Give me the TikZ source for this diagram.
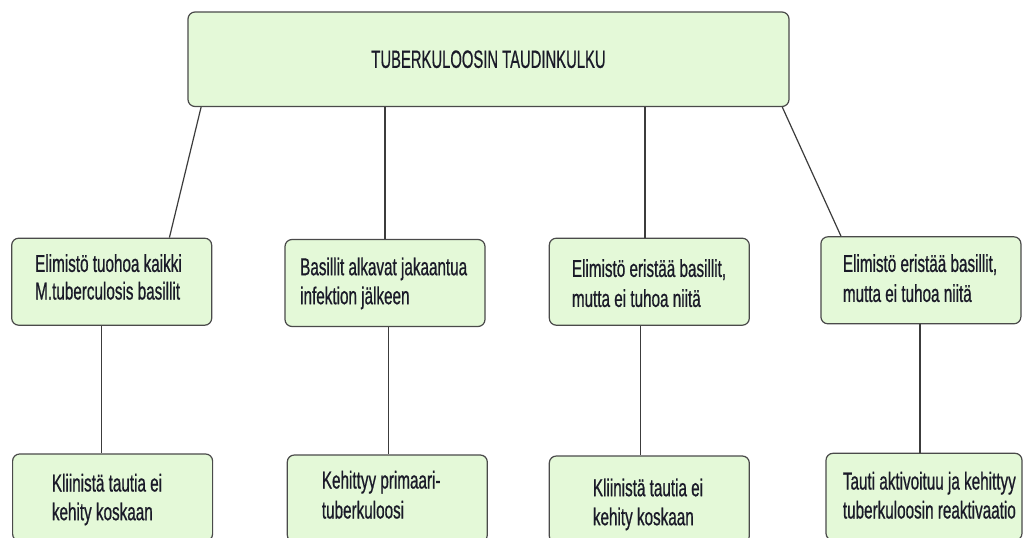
\documentclass[tikz,border=0pt]{standalone}
\usepackage{fontspec}
\setmainfont{Liberation Sans}[FakeStretch=0.625,FakeBold=0.7]
\newfontfamily\titlefont{Liberation Sans}[FakeStretch=0.59,FakeBold=0.6]
\definecolor{boxfill}{HTML}{E4F9D8}
\definecolor{boxline}{HTML}{4A4A4A}
\definecolor{connline}{HTML}{3C3C3C}
\definecolor{txtcol}{HTML}{1A1A28}
\begin{document}
\begin{tikzpicture}[x=1pt,y=-1pt,
  box/.style={draw=boxline, fill=boxfill, line width=1.2pt, rounded corners=7pt,
    inner sep=0pt, minimum width=#1, minimum height=87pt},
  box/.default=200pt,
  conn/.style={draw=connline, line width=1.2pt},
  lbl/.style={anchor=north west, inner sep=0pt, align=left, text=txtcol,
    font=\fontsize{24.4pt}{#1}\selectfont},
  lbl/.default=29pt]
\useasboundingbox (0,0) rectangle (1023,538);
\clip (0,0) rectangle (1023,538);
\fill[white] (0,0) rectangle (1023,538);

% boxes
\node[box=601pt, minimum height=94.5pt, text=txtcol,
  font=\titlefont\fontsize{25.1pt}{30pt}\selectfont] (T) at (488.5,59.25) {TUBERKULOOSIN TAUDINKULKU};
\node[box] (A) at (111.7,281.7) {};
\node[box] (B) at (385,283) {};
\node[box] (C) at (649.3,281.7) {};
\node[box] (D) at (920.9,280.3) {};
\node[box] (E) at (112.6,497.5) {};
\node[box] (F) at (387.3,498.5) {};
\node[box] (G) at (649.3,499.5) {};
\node[box=196pt] (H) at (924,496.8) {};

% texts
\node[lbl=27.6pt] (tA) at (35,251.7) {\rule{0pt}{20pt}Elimistö tuohoa kaikki\\M.tuberculosis basillit};
\node[lbl=29pt] (tB) at (300,255) {\rule{0pt}{20pt}Basillit alkavat jakaantua\\infektion jälkeen};
\node[lbl=30pt] (tC) at (571.7,256.7) {\rule{0pt}{20pt}Elimistö eristää basillit,\\mutta ei tuhoa niitä};
\node[lbl=30pt] (tD) at (842.7,251.7) {\rule{0pt}{20pt}Elimistö eristää basillit,\\mutta ei tuhoa niitä};
\node[lbl=28.7pt] (tE) at (51.7,471.3) {\rule{0pt}{20pt}Kliinistä tautia ei\\kehity koskaan};
\node[lbl=30pt] (tF) at (321.7,468.3) {\rule{0pt}{20pt}Kehittyy primaari-\\tuberkuloosi};
\node[lbl=29pt] (tG) at (592.7,476) {\rule{0pt}{20pt}Kliinistä tautia ei\\kehity koskaan};
\node[lbl=29pt] (tH) at (842.7,469.3) {\rule{0pt}{20pt}Tauti aktivoituu ja kehittyy\\tuberkuloosin reaktivaatio};

% connector helper coordinates
\coordinate (cC) at ([xshift=-4.3pt]C.north);
\coordinate (aE) at ([xshift=-10pt]A.south);
\coordinate (bF) at ([xshift=3.3pt]B.south);
\coordinate (cG) at ([xshift=-8.6pt]C.south);
\coordinate (dH) at ([xshift=-0.9pt]D.south);

% connectors
\draw[conn] ([xshift=13.7pt]T.south west) -- ([xshift=158.3pt]A.north west);
\draw[conn] (T.south -| B.north) -- (B.north);
\draw[conn] (T.south -| cC) -- (cC);
\draw[conn] ([xshift=-7.3pt]T.south east) -- ([xshift=20.7pt]D.north west);
\draw[conn] (aE) -- (aE |- E.north);
\draw[conn] (bF) -- (bF |- F.north);
\draw[conn] (cG) -- (cG |- G.north);
\draw[conn] (dH) -- (dH |- H.north);
\end{tikzpicture}
\end{document}
